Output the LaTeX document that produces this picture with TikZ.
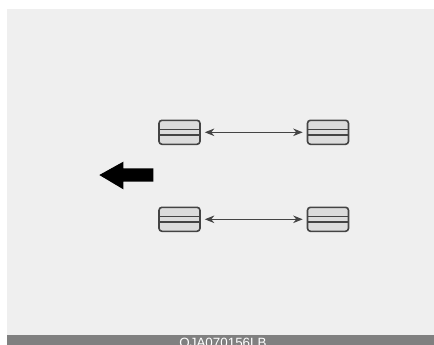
\documentclass[tikz,border=0pt]{standalone}
\usepackage{fontspec}
\setmainfont{Liberation Sans}
\usetikzlibrary{arrows.meta}
\definecolor{fondo}{HTML}{EFEFEF}
\definecolor{banda}{HTML}{808080}
\definecolor{borde}{HTML}{444444}
\definecolor{relleno}{HTML}{DCDCDC}
\tikzset{
  rejilla/.style={draw=borde, line width=1.6pt, fill=relleno, rounded corners=3pt,
    minimum width=41pt, minimum height=24pt, inner sep=0pt,
    path picture={
      \draw[borde, line width=1.5pt]
        ([yshift=2.6pt]path picture bounding box.west) -- ([yshift=2.6pt]path picture bounding box.east)
        ([yshift=-2.6pt]path picture bounding box.west) -- ([yshift=-2.6pt]path picture bounding box.east);
    }},
  distancia/.style={{Stealth[length=9.5pt,width=7.5pt]}-{Stealth[length=9.5pt,width=7.5pt]},
    borde, line width=1.1pt, shorten <=4pt, shorten >=4pt}
}
\begin{document}
\begin{tikzpicture}[x=1pt,y=-1pt]
        \useasboundingbox (0,0) rectangle (434,345);
        % Fondo y banda inferior
        \fill[fondo] (7,9) rectangle (434,345);
        \fill[banda] (7,335) rectangle (434,345);
        \node[anchor=base, text=white, font=\fontsize{13.4}{14}\selectfont, inner sep=0pt] (codigo) at (223,347) {OJA070156LB};
        % Flecha de direccion
        \fill[black] (99.3,175) -- (123.3,161.7) -- (123.3,168.3) -- (153.3,168.3)
          -- (153.3,181.7) -- (123.3,181.7) -- (123.3,189.3) -- cycle;
        % Rejillas superiores
        \node[rejilla] (rejA) at (179.5,132.3) {};
        \node[rejilla] (rejB) at (328,132.3) {};
        \draw[distancia] (rejA) -- (rejB);
        % Rejillas inferiores
        \node[rejilla] (rejC) at (179.5,219.3) {};
        \node[rejilla] (rejD) at (328,219.3) {};
        \draw[distancia] (rejC) -- (rejD);
    \end{tikzpicture}
\end{document}
